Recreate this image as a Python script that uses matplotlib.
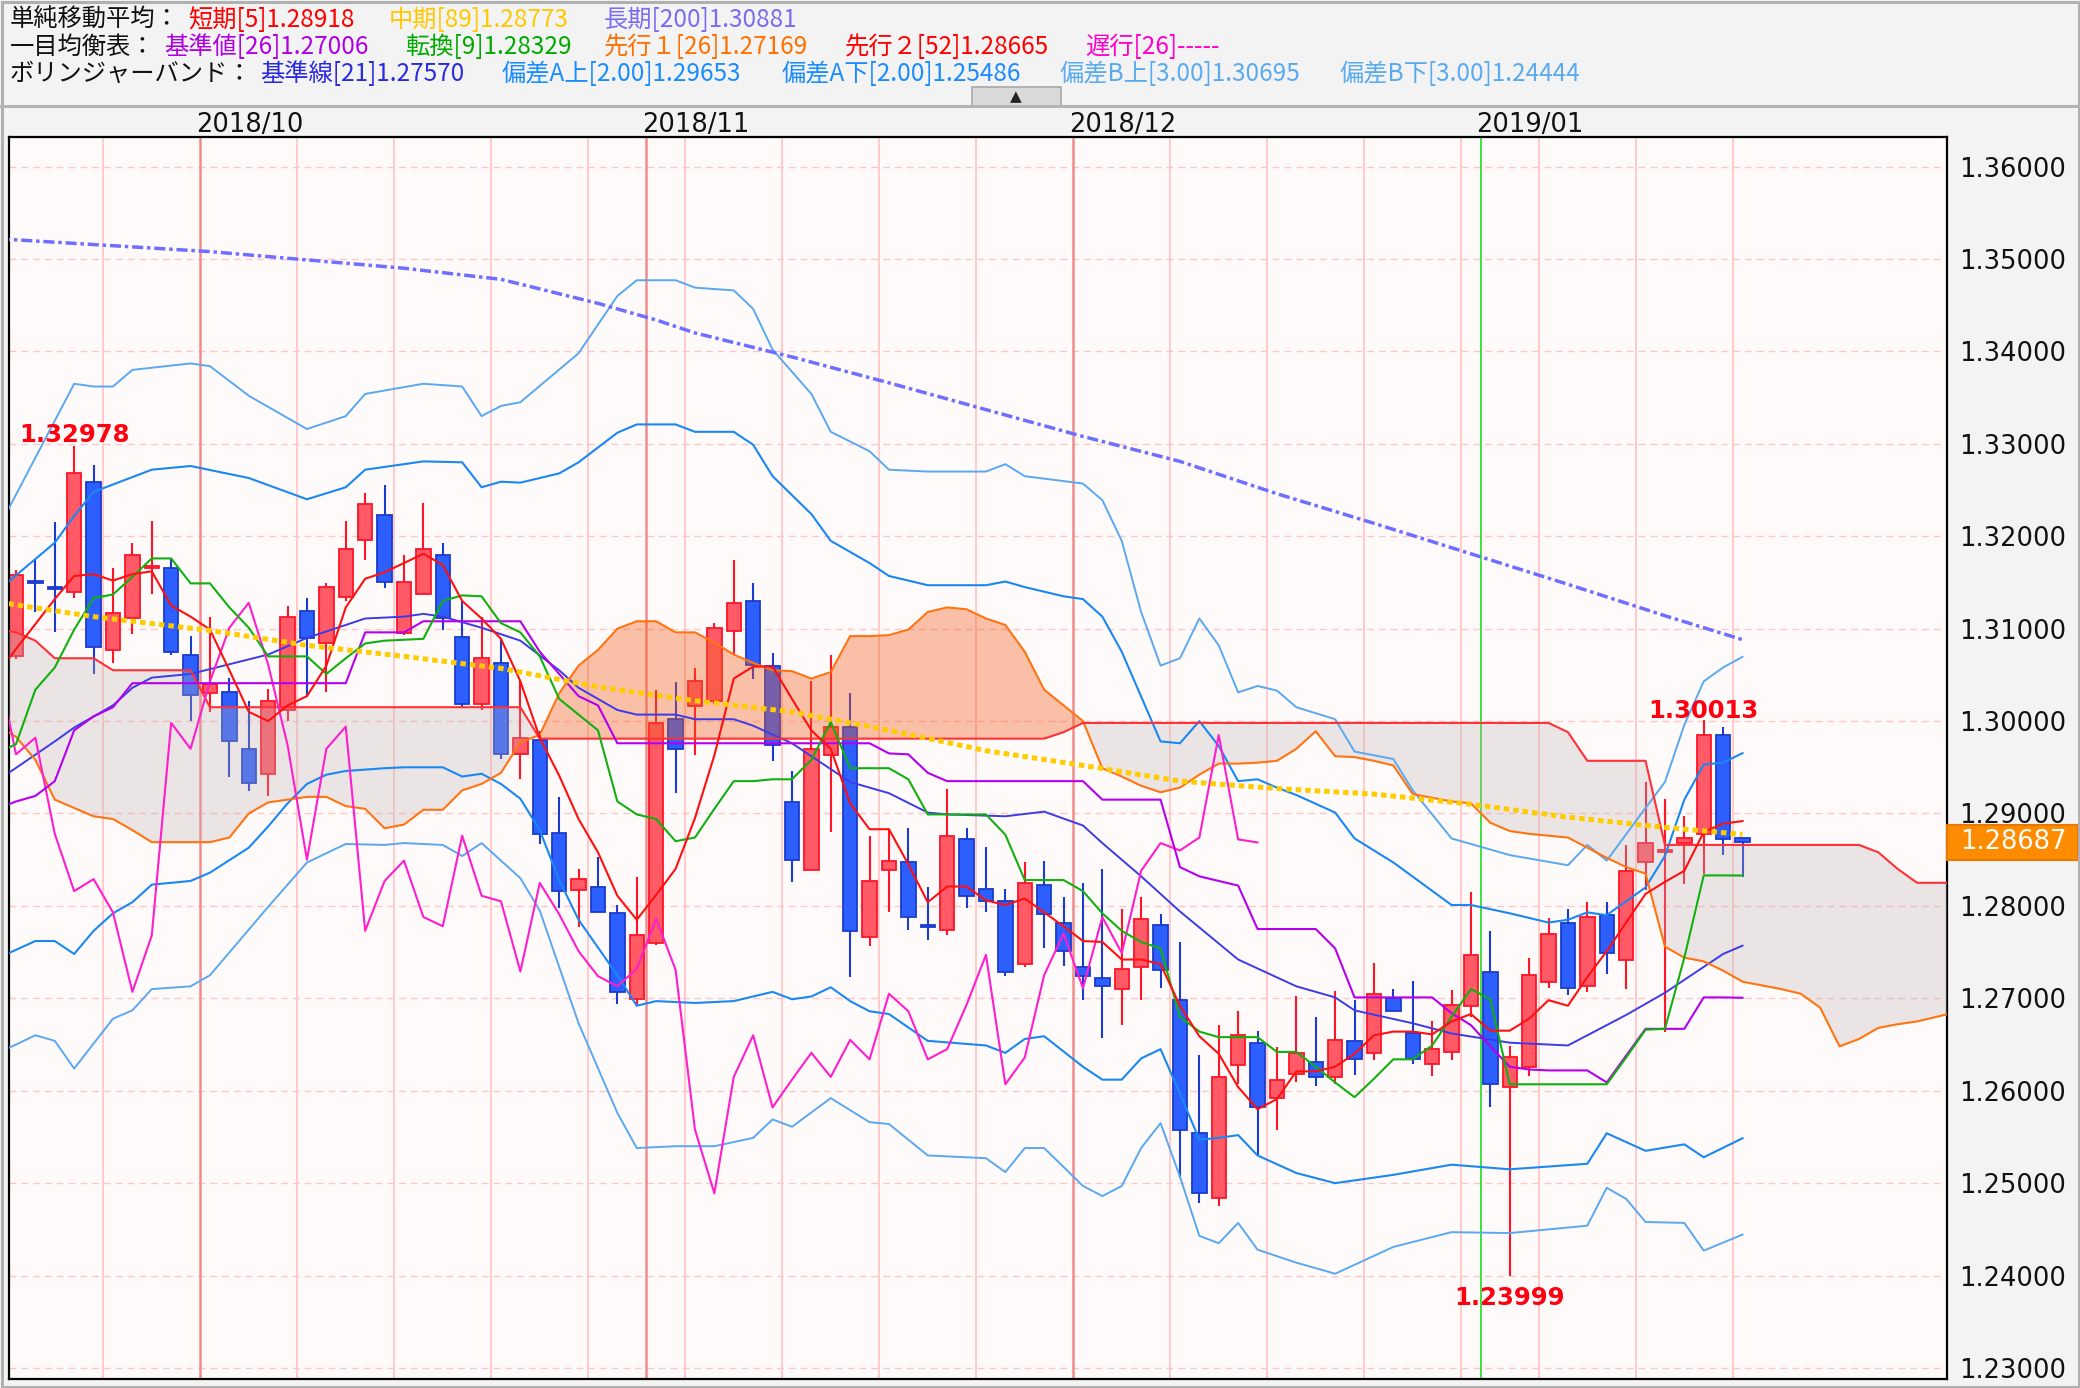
import numpy as np
import pandas as pd
import matplotlib
matplotlib.use("Agg")
import matplotlib.pyplot as plt
from matplotlib.patches import Rectangle
from matplotlib.transforms import blended_transform_factory

# ---------------- data ----------------
dates = [d for d in pd.bdate_range("2018-09-17", "2019-01-21") if d != pd.Timestamp("2019-01-01")]

opens = [1.3070, 1.3152, 1.3145, 1.3140, 1.3259, 1.3077, 1.3112, 1.3166, 1.3166, 1.3071,
         1.3030, 1.3032, 1.2970, 1.2943, 1.3012, 1.3119, 1.3084, 1.3134, 1.3196, 1.3223,
         1.3095, 1.3138, 1.3180, 1.3091, 1.3019, 1.3063, 1.2964, 1.2979, 1.2879, 1.2817,
         1.2820, 1.2792, 1.2699, 1.2760, 1.3002, 1.3016, 1.3022, 1.3098, 1.3130, 1.3060,
         1.2912, 1.2839, 1.2963, 1.2994, 1.2766, 1.2839, 1.2847, 1.2779, 1.2774, 1.2872,
         1.2818, 1.2805, 1.2737, 1.2823, 1.2781, 1.2734, 1.2722, 1.2710, 1.2734, 1.2779,
         1.2698, 1.2554, 1.2484, 1.2628, 1.2652, 1.2592, 1.2618, 1.2631, 1.2615, 1.2654,
         1.2641, 1.2700, 1.2663, 1.2629, 1.2642, 1.2692, 1.2729, 1.2604, 1.2626, 1.2718,
         1.2781, 1.2713, 1.2790, 1.2742, 1.2848, 1.2858, 1.2868, 1.2878, 1.2985, 1.2873]
highs = [1.3164, 1.3174, 1.3215, 1.32978, 1.3277, 1.3166, 1.3193, 1.3217, 1.3176, 1.3092,
         1.3113, 1.3047, 1.3022, 1.3035, 1.3124, 1.3133, 1.3149, 1.3217, 1.3247, 1.3255,
         1.3180, 1.3236, 1.3193, 1.3130, 1.3113, 1.3089, 1.3043, 1.2989, 1.2918, 1.2840,
         1.2853, 1.2801, 1.2831, 1.3034, 1.3042, 1.3057, 1.3106, 1.3174, 1.3149, 1.3074,
         1.2946, 1.3043, 1.3072, 1.3030, 1.2876, 1.2882, 1.2884, 1.2821, 1.2926, 1.2884,
         1.2864, 1.2818, 1.2847, 1.2849, 1.2810, 1.2825, 1.2840, 1.2797, 1.2810, 1.2791,
         1.2761, 1.2639, 1.2671, 1.2686, 1.2665, 1.2647, 1.2703, 1.2680, 1.2708, 1.2698,
         1.2738, 1.2710, 1.2719, 1.2675, 1.2709, 1.2815, 1.2773, 1.2648, 1.2744, 1.2787,
         1.2797, 1.2804, 1.2804, 1.2866, 1.2934, 1.2916, 1.2897, 1.30013, 1.2994, 1.2873]
lows = [1.3067, 1.3118, 1.3096, 1.3133, 1.3051, 1.3063, 1.3094, 1.3137, 1.3072, 1.3000,
        1.3010, 1.2940, 1.2924, 1.2919, 1.3000, 1.3027, 1.3031, 1.3130, 1.3174, 1.3144,
        1.3093, 1.3137, 1.3099, 1.3015, 1.3012, 1.2959, 1.2937, 1.2867, 1.2798, 1.2777,
        1.2792, 1.2694, 1.2692, 1.2758, 1.2922, 1.2963, 1.3019, 1.3072, 1.3046, 1.2957,
        1.2826, 1.2839, 1.2880, 1.2723, 1.2757, 1.2793, 1.2774, 1.2763, 1.2768, 1.2798,
        1.2793, 1.2724, 1.2734, 1.2755, 1.2735, 1.2698, 1.2657, 1.2671, 1.2698, 1.2711,
        1.2506, 1.2478, 1.2475, 1.2607, 1.2530, 1.2558, 1.2609, 1.2605, 1.2607, 1.2617,
        1.2633, 1.2686, 1.2629, 1.2616, 1.2633, 1.2680, 1.2582, 1.23999, 1.2616, 1.2711,
        1.2704, 1.2707, 1.2726, 1.2710, 1.2817, 1.2664, 1.2824, 1.2835, 1.2855, 1.2831]
closes = [1.3158, 1.3150, 1.3143, 1.3268, 1.3080, 1.3117, 1.3180, 1.3168, 1.3075, 1.3028,
          1.3040, 1.2978, 1.2933, 1.3022, 1.3113, 1.3090, 1.3145, 1.3186, 1.3235, 1.3151,
          1.3151, 1.3186, 1.3112, 1.3019, 1.3068, 1.2964, 1.2982, 1.2878, 1.2816, 1.2829,
          1.2793, 1.2707, 1.2768, 1.2998, 1.2970, 1.3043, 1.3101, 1.3128, 1.3061, 1.2974,
          1.2850, 1.2970, 1.2994, 1.2773, 1.2827, 1.2849, 1.2788, 1.2778, 1.2876, 1.2811,
          1.2805, 1.2729, 1.2825, 1.2791, 1.2751, 1.2724, 1.2713, 1.2732, 1.2786, 1.2731,
          1.2558, 1.2489, 1.2615, 1.2660, 1.2582, 1.2612, 1.2641, 1.2615, 1.2655, 1.2634,
          1.2705, 1.2686, 1.2634, 1.2645, 1.2693, 1.2747, 1.2607, 1.2636, 1.2725, 1.2770,
          1.2711, 1.2788, 1.2749, 1.2838, 1.2868, 1.2860, 1.2874, 1.2985, 1.2872, 1.28687]

# per-candle indicator lines, x = -1 .. 89
sma5 = [1.3050, 1.3078, 1.3105, 1.3132, 1.3157, 1.3159, 1.3152, 1.3159, 1.3162, 1.3125,
        1.3113, 1.3099, 1.3055, 1.3010, 1.3000, 1.3017, 1.3027, 1.3060, 1.3123, 1.3154,
        1.3161, 1.3171, 1.3181, 1.3169, 1.3130, 1.3111, 1.3089, 1.3043, 1.2982, 1.2941,
        1.2894, 1.2858, 1.2811, 1.2785, 1.2812, 1.2840, 1.2895, 1.2963, 1.3046, 1.3059,
        1.3059, 1.3024, 1.2990, 1.2970, 1.2911, 1.2883, 1.2883, 1.2845, 1.2804, 1.2821,
        1.2821, 1.2806, 1.2801, 1.2808, 1.2793, 1.2778, 1.2762, 1.2761, 1.2742, 1.2742,
        1.2737, 1.2692, 1.2659, 1.2640, 1.2604, 1.2580, 1.2591, 1.2621, 1.2621, 1.2626,
        1.2640, 1.2660, 1.2664, 1.2664, 1.2661, 1.2675, 1.2683, 1.2665, 1.2665, 1.2678,
        1.2698, 1.2692, 1.2723, 1.2751, 1.2782, 1.2813, 1.2826, 1.2838, 1.2880, 1.2889,
        1.28918]
tenkan = [1.2965, 1.2975, 1.3034, 1.3058, 1.3099, 1.3133, 1.3137, 1.3156, 1.3176, 1.3176,
          1.3149, 1.3149, 1.3123, 1.3101, 1.3070, 1.3070, 1.3070, 1.3051, 1.3068, 1.3084,
          1.3087, 1.3088, 1.3089, 1.3130, 1.3136, 1.3135, 1.3106, 1.3096, 1.3070, 1.3024,
          1.3007, 1.2990, 1.2913, 1.2899, 1.2894, 1.2870, 1.2874, 1.2905, 1.2935, 1.2935,
          1.2937, 1.2937, 1.2958, 1.2999, 1.2949, 1.2949, 1.2949, 1.2937, 1.2899, 1.2899,
          1.2899, 1.2899, 1.2877, 1.2828, 1.2828, 1.2828, 1.2816, 1.2792, 1.2773, 1.2761,
          1.2754, 1.2680, 1.2664, 1.2658, 1.2658, 1.2658, 1.2642, 1.2642, 1.2626, 1.2609,
          1.2593, 1.2613, 1.2634, 1.2634, 1.2649, 1.2680, 1.2710, 1.2699, 1.2607, 1.2607,
          1.2607, 1.2607, 1.2607, 1.2607, 1.2636, 1.2666, 1.2667, 1.2744, 1.2833, 1.2833,
          1.28329]
kijun = [1.2905, 1.2913, 1.2919, 1.2935, 1.2990, 1.3005, 1.3015, 1.3041, 1.3041, 1.3041,
         1.3041, 1.3041, 1.3041, 1.3041, 1.3041, 1.3041, 1.3041, 1.3041, 1.3041, 1.3096,
         1.3096, 1.3096, 1.3108, 1.3108, 1.3108, 1.3108, 1.3108, 1.3108, 1.3075, 1.3051,
         1.3027, 1.3017, 1.2976, 1.2976, 1.2976, 1.2976, 1.2976, 1.2976, 1.2976, 1.2976,
         1.2976, 1.2976, 1.2976, 1.2976, 1.2976, 1.2976, 1.2965, 1.2964, 1.2944, 1.2935,
         1.2935, 1.2935, 1.2935, 1.2935, 1.2935, 1.2935, 1.2935, 1.2915, 1.2915, 1.2915,
         1.2915, 1.2842, 1.2832, 1.2827, 1.2822, 1.2775, 1.2775, 1.2775, 1.2775, 1.2754,
         1.2701, 1.2701, 1.2701, 1.2701, 1.2701, 1.2684, 1.2671, 1.2648, 1.2626, 1.2623,
         1.2622, 1.2622, 1.2622, 1.2609, 1.2638, 1.2667, 1.2667, 1.2667, 1.2701, 1.2701,
         1.27006]

# leading spans, x = -1 .. 100
senkou_a = [1.2995, 1.2983, 1.2958, 1.2915, 1.2906, 1.2897, 1.2894, 1.2882, 1.2869, 1.2869,
            1.2869, 1.2869, 1.2874, 1.2900, 1.2912, 1.2915, 1.2918, 1.2918, 1.2908, 1.2905,
            1.2884, 1.2888, 1.2904, 1.2904, 1.2925, 1.2932, 1.2944, 1.2977, 1.2985, 1.3030,
            1.3060, 1.3077, 1.3100, 1.3108, 1.3108, 1.3096, 1.3096, 1.3085, 1.3072, 1.3063,
            1.3055, 1.3054, 1.3046, 1.3053, 1.3092, 1.3092, 1.3093, 1.3099, 1.3118, 1.3123,
            1.3121, 1.3111, 1.3104, 1.3075, 1.3034, 1.3017, 1.3000, 1.2949, 1.2940, 1.2930,
            1.2923, 1.2928, 1.2942, 1.2954, 1.2954, 1.2955, 1.2957, 1.2970, 1.2989, 1.2962,
            1.2961, 1.2957, 1.2952, 1.2921, 1.2917, 1.2913, 1.2911, 1.2890, 1.2881, 1.2878,
            1.2876, 1.2874, 1.2863, 1.2852, 1.2842, 1.2835, 1.2756, 1.2744, 1.2740, 1.2730,
            1.2718, 1.2714, 1.2710, 1.2705, 1.2690, 1.2648, 1.2656, 1.2668, 1.2672, 1.2675,
            1.2680, 1.2685]
senkou_b = [1.3100, 1.3096, 1.3087, 1.3068, 1.3068, 1.3068, 1.3055, 1.3055, 1.3055, 1.3055,
            1.3055, 1.3015, 1.3015, 1.3015, 1.3015, 1.3015, 1.3015, 1.3015, 1.3015, 1.3015,
            1.3015, 1.3015, 1.3015, 1.3015, 1.3015, 1.3015, 1.3015, 1.3015, 1.2981, 1.2981,
            1.2981, 1.2981, 1.2981, 1.2981, 1.2981, 1.2981, 1.2981, 1.2981, 1.2981, 1.2981,
            1.2981, 1.2981, 1.2981, 1.2981, 1.2981, 1.2981, 1.2981, 1.2981, 1.2981, 1.2981,
            1.2981, 1.2981, 1.2981, 1.2981, 1.2981, 1.2988, 1.2998, 1.2998, 1.2998, 1.2998,
            1.2998, 1.2998, 1.2998, 1.2998, 1.2998, 1.2998, 1.2998, 1.2998, 1.2998, 1.2998,
            1.2998, 1.2998, 1.2998, 1.2998, 1.2998, 1.2998, 1.2998, 1.2998, 1.2998, 1.2998,
            1.2998, 1.2988, 1.2957, 1.2957, 1.2957, 1.2957, 1.2866, 1.2866, 1.2866, 1.2866,
            1.2866, 1.2866, 1.2866, 1.2866, 1.2866, 1.2866, 1.2866, 1.2858, 1.2840, 1.2825,
            1.2825, 1.2825]

# smoother lines read at vertices (candle index, value)
sma89_x = [-1, 4, 10, 15, 20, 25, 30, 35, 40, 45, 50, 55, 60, 65, 70, 75, 80, 85, 89]
sma89 = [1.3129, 1.3113, 1.3098, 1.3082, 1.3070, 1.3057, 1.3037, 1.3022, 1.3010, 1.2990,
         1.2968, 1.2952, 1.2935, 1.2927, 1.2921, 1.2910, 1.2896, 1.2885, 1.28773]
sma200_x = [-1, 10, 20, 25, 30, 33, 35, 40, 45, 50, 55, 60, 65, 70, 75, 80, 85, 89]
sma200 = [1.3522, 1.3508, 1.3490, 1.3478, 1.3452, 1.3434, 1.3420, 1.3394, 1.3366, 1.3337,
          1.3308, 1.3281, 1.3246, 1.3214, 1.3181, 1.3148, 1.3114, 1.30881]

bb_mid_x = [-1, 2, 3, 5, 6, 7, 9, 13, 15, 18, 20, 21, 22, 24, 26, 28, 29, 31, 32, 34, 35, 37,
            38, 40, 41, 43, 45, 47, 48, 51, 53, 55, 56, 58, 60, 63, 66, 68, 69, 72, 74, 77,
            80, 83, 85, 88, 89]
bb_mid = [1.2935, 1.2978, 1.2993, 1.3017, 1.3036, 1.3047, 1.3051, 1.3072, 1.3090, 1.3111,
          1.3113, 1.3116, 1.3113, 1.3101, 1.3087, 1.3055, 1.3036, 1.3012, 1.3007, 1.3007,
          1.3002, 1.3002, 1.2995, 1.2976, 1.2962, 1.2934, 1.2922, 1.2901, 1.2899, 1.2897,
          1.2902, 1.2887, 1.2868, 1.2832, 1.2794, 1.2742, 1.2713, 1.2701, 1.2687, 1.2673,
          1.2662, 1.2652, 1.2649, 1.2682, 1.2706, 1.2748, 1.27570]
bb_up2_x = [-1, 2, 3, 4, 7, 9, 12, 15, 17, 18, 21, 23, 24, 25, 26, 28, 29, 31, 32, 34, 35, 37,
            38, 39, 41, 42, 44, 45, 47, 50, 51, 52, 54, 55, 56, 57, 59, 60, 61, 62, 63, 64,
            65, 66, 68, 69, 71, 74, 75, 77, 79, 80, 81, 82, 84, 85, 86, 87, 88, 89]
bb_up2 = [1.3140, 1.3193, 1.3222, 1.3248, 1.3272, 1.3276, 1.3263, 1.3240, 1.3253, 1.3272,
          1.3281, 1.3280, 1.3253, 1.3259, 1.3258, 1.3268, 1.3280, 1.3312, 1.3321, 1.3321,
          1.3313, 1.3313, 1.3299, 1.3265, 1.3224, 1.3195, 1.3171, 1.3157, 1.3147, 1.3147,
          1.3151, 1.3145, 1.3135, 1.3132, 1.3113, 1.3075, 1.2978, 1.2976, 1.3000, 1.2973,
          1.2935, 1.2937, 1.2928, 1.2920, 1.2901, 1.2873, 1.2847, 1.2801, 1.2801, 1.2792,
          1.2782, 1.2785, 1.2793, 1.2790, 1.2820, 1.2854, 1.2915, 1.2953, 1.2955, 1.29653]
bb_up3_x = [-1, 3, 4, 5, 6, 9, 10, 12, 15, 17, 18, 21, 23, 24, 25, 26, 29, 31, 32, 34, 35,
            37, 38, 39, 41, 42, 44, 45, 47, 50, 51, 52, 55, 56, 57, 58, 59, 60, 61, 62, 63,
            64, 65, 66, 68, 69, 71, 72, 74, 77, 80, 81, 82, 84, 85, 86, 87, 88, 89]
bb_up3 = [1.3205, 1.3365, 1.3362, 1.3362, 1.3380, 1.3387, 1.3384, 1.3352, 1.3316, 1.3330,
          1.3354, 1.3365, 1.3362, 1.3330, 1.3341, 1.3345, 1.3398, 1.3460, 1.3477, 1.3477,
          1.3469, 1.3466, 1.3446, 1.3402, 1.3354, 1.3313, 1.3292, 1.3272, 1.3270, 1.3270,
          1.3278, 1.3265, 1.3257, 1.3239, 1.3195, 1.3118, 1.3060, 1.3068, 1.3111, 1.3082,
          1.3031, 1.3038, 1.3033, 1.3015, 1.3002, 1.2967, 1.2959, 1.2925, 1.2873, 1.2855,
          1.2844, 1.2866, 1.2849, 1.2906, 1.2934, 1.2996, 1.3043, 1.3058, 1.30695]
bb_dn2_x = [-1, 1, 2, 3, 4, 5, 6, 7, 9, 10, 12, 13, 14, 15, 16, 17, 19, 20, 22, 23, 24, 25,
            26, 27, 28, 29, 31, 32, 33, 35, 37, 39, 40, 41, 42, 43, 44, 45, 47, 50, 51, 52,
            53, 55, 56, 57, 58, 59, 60, 61, 62, 63, 64, 66, 68, 71, 74, 77, 81, 82, 84, 86,
            87, 89]
bb_dn2 = [1.2743, 1.2762, 1.2762, 1.2748, 1.2773, 1.2792, 1.2804, 1.2823, 1.2827, 1.2836,
          1.2863, 1.2886, 1.2911, 1.2932, 1.2942, 1.2946, 1.2949, 1.2950, 1.2950, 1.2940,
          1.2943, 1.2932, 1.2916, 1.2882, 1.2828, 1.2785, 1.2725, 1.2692, 1.2697, 1.2695,
          1.2697, 1.2707, 1.2699, 1.2702, 1.2712, 1.2697, 1.2686, 1.2683, 1.2654, 1.2649,
          1.2641, 1.2656, 1.2659, 1.2626, 1.2612, 1.2612, 1.2635, 1.2645, 1.2597, 1.2547,
          1.2549, 1.2552, 1.2530, 1.2511, 1.2500, 1.2509, 1.2520, 1.2515, 1.2521, 1.2554,
          1.2535, 1.2542, 1.2528, 1.25486]
bb_dn3_x = [-1, 1, 2, 3, 5, 6, 7, 9, 10, 13, 15, 17, 19, 20, 22, 23, 24, 26, 27, 29, 31, 32,
            34, 36, 38, 39, 40, 42, 44, 45, 47, 50, 51, 52, 53, 55, 56, 57, 58, 59, 60, 61,
            62, 63, 64, 66, 68, 71, 74, 77, 81, 82, 83, 84, 86, 87, 89]
bb_dn3 = [1.2640, 1.2660, 1.2654, 1.2624, 1.2678, 1.2687, 1.2710, 1.2713, 1.2725, 1.2799,
          1.2847, 1.2867, 1.2866, 1.2868, 1.2866, 1.2854, 1.2868, 1.2830, 1.2795, 1.2673,
          1.2576, 1.2538, 1.2540, 1.2540, 1.2549, 1.2569, 1.2561, 1.2592, 1.2566, 1.2564,
          1.2530, 1.2527, 1.2512, 1.2538, 1.2538, 1.2497, 1.2486, 1.2497, 1.2538, 1.2565,
          1.2507, 1.2443, 1.2435, 1.2457, 1.2428, 1.2414, 1.2402, 1.2431, 1.2447, 1.2446,
          1.2454, 1.2495, 1.2483, 1.2458, 1.2457, 1.2427, 1.24444]

y_ticks = [1.23, 1.24, 1.25, 1.26, 1.27, 1.28, 1.29, 1.30, 1.31, 1.32, 1.33, 1.34, 1.35, 1.36]
last_price = 1.28687

# ---------------- figure ----------------
W, H = 2080, 1388
JP = ["Noto Sans CJK JP", "DejaVu Sans"]
fig = plt.figure(figsize=(W / 100, H / 100), dpi=100, facecolor="#f3f3f3")
ax = fig.add_axes([9 / W, 1 - 1379 / H, (1947 - 9) / W, (1379 - 137) / H])
ax.set_facecolor("#fffafa")
ax.set_xlim(-0.36, 99.54)
ax.set_ylim(1.22881, 1.36320)

n = len(closes)
xc = np.arange(n)
O = np.array(opens); Hh = np.array(highs); L = np.array(lows); C = np.array(closes)

# grid
for yv in y_ticks:
    ax.axhline(yv, color="#ffc6c6", lw=1.0, ls=(0, (5, 3.5)), zorder=0.5)

for i in range(1, n):
    d, p = dates[i], dates[i - 1]
    if d.month != p.month:
        col, lw = ("#33dd33", 1.3) if d.year != p.year else ("#f08c8c", 1.8)
        ax.axvline(i - 0.5, color=col, lw=lw, zorder=0.6)
        ax.annotate(f"{d.year}/{d.month:02d}", xy=(i - 0.5 + 2.55, 1.0),
                    xycoords=("data", "axes fraction"), xytext=(0, 8.5),
                    textcoords="offset points", ha="center", va="center",
                    fontsize=18.5, color="#111111", family="DejaVu Sans",
                    annotation_clip=False)
    elif d.weekday() == 0:
        ax.axvline(i - 0.5, color="#ffc2c2", lw=1.2, zorder=0.6)

# candles
up = C >= O
edge = np.where(up, "#ff1428", "#1a3ccc")
fill = np.where(up, "#ff5a66", "#2d5fff")
ax.vlines(xc, L, Hh, colors=edge, lw=1.5, zorder=2)
bh = np.maximum(np.abs(C - O), 0.00022)
bb = (O + C) / 2 - bh / 2
ax.bar(xc, bh, bottom=bb, width=0.74, color=fill, edgecolor=edge, linewidth=1.3, zorder=2.1)

# cloud
sx = np.arange(-1, 101)
A = np.array(senkou_a); B = np.array(senkou_b)
ax.fill_between(sx, A, B, where=A >= B, interpolate=True, color="#f06020", alpha=0.38, lw=0, zorder=3)
ax.fill_between(sx, A, B, where=A < B, interpolate=True, color="#c0b2b2", alpha=0.30, lw=0, zorder=3)

ix = np.arange(-1, 90)
lw = 1.5
ax.plot(bb_up3_x, bb_up3, color="#5aa8f0", lw=1.4, zorder=4)
ax.plot(bb_dn3_x, bb_dn3, color="#5aa8f0", lw=1.4, zorder=4)
ax.plot(bb_up2_x, bb_up2, color="#1a88f2", lw=lw, zorder=4)
ax.plot(bb_dn2_x, bb_dn2, color="#1a88f2", lw=lw, zorder=4)
ax.plot(bb_mid_x, bb_mid, color="#3c3ce6", lw=1.4, zorder=4)
ax.plot(sx, A, color="#ff7410", lw=lw, zorder=4.1)
ax.plot(sx, B, color="#ff3038", lw=lw, zorder=4.1)
ax.plot(np.arange(-1, n - 25), C[24:], color="#ff1ecc", lw=lw, zorder=4.2)
ax.plot(ix, kijun, color="#b400ee", lw=lw, zorder=4.3)
ax.plot(ix, tenkan, color="#10b010", lw=lw, zorder=4.3)
ax.plot(ix, sma5, color="#ff1010", lw=lw, zorder=4.4)
ax.plot(sma89_x, sma89, color="#ffcc00", lw=3.6, dashes=(1.1, 0.8), zorder=4.5)
ax.plot(sma200_x, sma200, color="#6e6eff", lw=2.5, dashes=(3.2, 1.1, 1.0, 1.1), zorder=4.5)

# high / low labels
hi_i = int(np.argmax(Hh[:10]))
for xi, yv, txt in [(hi_i, 1.3310, f"{Hh[hi_i]:.5f}"), (87, 1.3011, f"{Hh[87]:.5f}"),
                    (77, 1.2376, f"{L[77]:.5f}")]:
    ax.text(xi, yv, txt, ha="center", va="center", color="#ff0010", fontsize=17.5,
            fontweight="bold", family="DejaVu Sans", zorder=6)

# axes styling
for s in ax.spines.values():
    s.set_color("black"); s.set_linewidth(1.6)
ax.set_xticks([])
ax.yaxis.tick_right()
ax.set_yticks(y_ticks)
ax.set_yticklabels([f"{v:.5f}" for v in y_ticks], fontsize=18.5, family="DejaVu Sans", color="#111111")
ax.tick_params(axis="y", length=0, pad=9)

# last price marker
bt = blended_transform_factory(fig.transFigure, ax.transData)
hbox = 35 / 9242
ax.add_patch(Rectangle((1947 / W, last_price - hbox / 2), (2078 - 1947) / W, hbox, transform=bt,
                       facecolor="#ff8c00", edgecolor="#e87800", lw=1.5, clip_on=False, zorder=7))
ax.text(1960 / W, last_price, f"{last_price:.5f}", transform=bt, ha="left", va="center",
        fontsize=18.5, color="white", family="DejaVu Sans", zorder=8, clip_on=False)

# header
fig.add_artist(plt.Line2D([0, 1], [1 - 106 / H, 1 - 106 / H], transform=fig.transFigure, color="#b4b4b4", lw=2.2))
fig.add_artist(Rectangle((1.5 / W, 1.5 / H), (W - 3) / W, (H - 3) / H, transform=fig.transFigure,
                         fill=False, edgecolor="#b0b0b0", lw=2.2))
header = [
    (20, [(10, "単純移動平均：", "#111111"), (188, "短期[5]1.28918", "#ff0000"),
          (389, "中期[89]1.28773", "#ffc800"), (604, "長期[200]1.30881", "#7a6cf0")]),
    (47, [(10, "一目均衡表：", "#111111"), (164, "基準値[26]1.27006", "#b000e0"),
          (405, "転換[9]1.28329", "#00aa00"), (604, "先行１[26]1.27169", "#ff7000"),
          (845, "先行２[52]1.28665", "#ff0000"), (1085, "遅行[26]-----", "#ff00cc")]),
    (74, [(10, "ボリンジャーバンド：", "#111111"), (260, "基準線[21]1.27570", "#2a2ae0"),
          (501, "偏差A上[2.00]1.29653", "#1a8cff"), (781, "偏差A下[2.00]1.25486", "#1a8cff"),
          (1060, "偏差B上[3.00]1.30695", "#5aaaf0"), (1339, "偏差B下[3.00]1.24444", "#5aaaf0")]),
]
for yy, items in header:
    for xx, s, col in items:
        fig.text(xx / W, 1 - yy / H, s, color=col, fontsize=17.5, family=JP, ha="left", va="center")

fig.add_artist(Rectangle((972 / W, 1 - 106 / H), (1061 - 972) / W, 19 / H, transform=fig.transFigure,
                         facecolor="#d9d9d9", edgecolor="#a8a8a8", lw=1.2))
fig.text(1016 / W, 1 - 97 / H, "▲", ha="center", va="center", fontsize=11, color="#222222", family="DejaVu Sans")

fig.savefig("out.png", dpi=100, facecolor=fig.get_facecolor())
